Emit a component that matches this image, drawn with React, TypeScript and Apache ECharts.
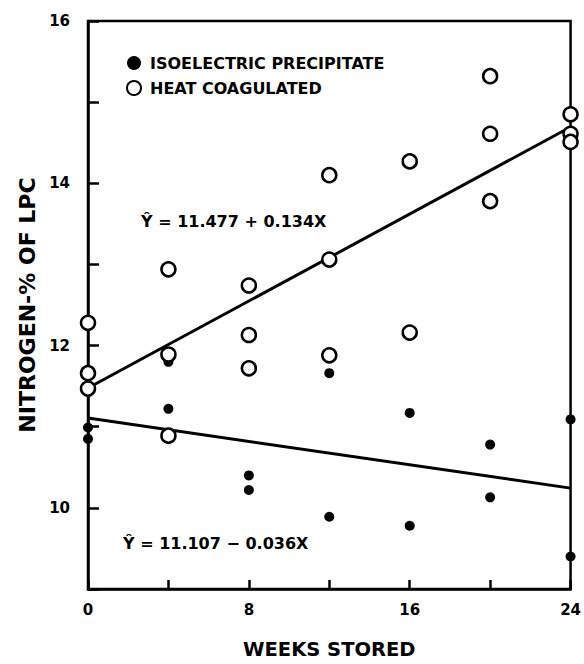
import React, { useEffect, useRef } from "react";
import * as echarts from "echarts";

// Weeks stored (x) and Nitrogen-% of LPC (y)
const isoelectricX = [0, 0, 4, 4, 8, 8, 12, 12, 16, 16, 20, 20, 24, 24];
const isoelectricY = [10.99, 10.85, 11.8, 11.22, 10.4, 10.22, 11.66, 9.89, 11.17, 9.78, 10.78, 10.13, 11.09, 9.4];

const heatX = [0, 0, 0, 4, 4, 4, 8, 8, 8, 12, 12, 12, 16, 16, 20, 20, 20, 24, 24, 24];
const heatY = [12.28, 11.66, 11.47, 12.94, 11.89, 10.89, 12.74, 12.13, 11.72, 14.1, 13.06, 11.88, 14.27, 12.16, 15.32, 14.61, 13.78, 14.85, 14.61, 14.51];

// Fitted regression lines (end points from printed equations)
const heatLine = [[0, 11.477], [24, 14.693]];
const isoLine = [[0, 11.107], [24, 10.243]];

const xTickLabels = ["0", "8", "16", "24"];
const yTickLabels = ["10", "12", "14", "16"];

const seriesNames = ["ISOELECTRIC PRECIPITATE", "HEAT COAGULATED"];
const equations = ["Ŷ = 11.477 + 0.134X", "Ŷ = 11.107 − 0.036X"];

const FONT = "DejaVu Sans";

export default function App() {
  const ref = useRef<HTMLDivElement>(null);
  useEffect(() => {
    if (!ref.current) return;
    const chart = echarts.init(ref.current, undefined, { renderer: "svg" });
    const zip = (xs: number[], ys: number[]) => xs.map((x, i) => [x, ys[i]]);
    chart.setOption({
      animation: false,
      backgroundColor: "#fff",
      textStyle: { fontFamily: FONT, color: "#000" },
      grid: {
        left: 88, right: 11, top: 21, bottom: 70,
        show: true, borderColor: "#000", borderWidth: 2.5,
      },
      legend: {
        orient: "vertical",
        left: 121,
        top: 50,
        itemGap: 9,
        itemWidth: 14,
        itemHeight: 14,
        data: [
          { name: seriesNames[0], icon: "circle" },
          { name: seriesNames[1], icon: "circle" },
        ],
        textStyle: { fontFamily: FONT, fontSize: 16, fontWeight: "bold", color: "#000", padding: [0, 0, 0, 4] },
      },
      xAxis: {
        type: "value",
        min: 0, max: 24, interval: 4,
        name: "WEEKS STORED",
        nameLocation: "middle",
        nameGap: 50,
        nameTextStyle: { fontFamily: FONT, fontSize: 19.5, fontWeight: "bold", color: "#000" },
        axisLine: { show: true, lineStyle: { color: "#000", width: 2.5 } },
        axisTick: { show: true, inside: true, length: 9, lineStyle: { color: "#000", width: 2.5 } },
        splitLine: { show: false },
        axisLabel: {
          margin: 13,
          fontSize: 15, fontWeight: "bold", color: "#000", fontFamily: FONT,
          formatter: (v: number) => (xTickLabels.includes(String(v)) ? String(v) : ""),
        },
      },
      yAxis: {
        type: "value",
        min: 9, max: 16, interval: 1,
        name: "NITROGEN-% OF LPC",
        nameLocation: "middle",
        nameGap: 50,
        nameTextStyle: { fontFamily: FONT, fontSize: 22, fontWeight: "bold", color: "#000" },
        axisLine: { show: true, lineStyle: { color: "#000", width: 2.5 } },
        axisTick: { show: true, inside: true, length: 11, lineStyle: { color: "#000", width: 2.5 } },
        splitLine: { show: false },
        axisLabel: {
          margin: 18,
          fontSize: 15, fontWeight: "bold", color: "#000", fontFamily: FONT,
          formatter: (v: number) => (yTickLabels.includes(String(v)) ? String(v) : ""),
        },
      },
      series: [
        {
          name: seriesNames[0],
          type: "scatter",
          symbol: "circle",
          symbolSize: 10,
          itemStyle: { color: "#000", opacity: 1 },
          data: zip(isoelectricX, isoelectricY),
          z: 4,
        },
        {
          name: seriesNames[1],
          type: "scatter",
          symbol: "circle",
          symbolSize: 14,
          itemStyle: { color: "#fff", borderColor: "#000", borderWidth: 2.5, opacity: 1 },
          data: zip(heatX, heatY),
          z: 5,
        },
        {
          name: "heatFit",
          type: "line",
          data: heatLine,
          symbol: "none",
          lineStyle: { color: "#000", width: 3 },
          z: 3,
        },
        {
          name: "isoFit",
          type: "line",
          data: isoLine,
          symbol: "none",
          lineStyle: { color: "#000", width: 3 },
          z: 3,
        },
      ],
      graphic: [
        {
          type: "text", left: 141, top: 213,
          style: { text: equations[0], fontFamily: FONT, fontSize: 16, fontWeight: "bold", fill: "#000" },
        },
        {
          type: "text", left: 123, top: 535,
          style: { text: equations[1], fontFamily: FONT, fontSize: 16, fontWeight: "bold", fill: "#000" },
        },
      ],
    });
    return () => chart.dispose();
  }, []);
  return <div ref={ref} style={{ width: 584, height: 664, position: "absolute", left: 0, top: 0 }} />;
}
